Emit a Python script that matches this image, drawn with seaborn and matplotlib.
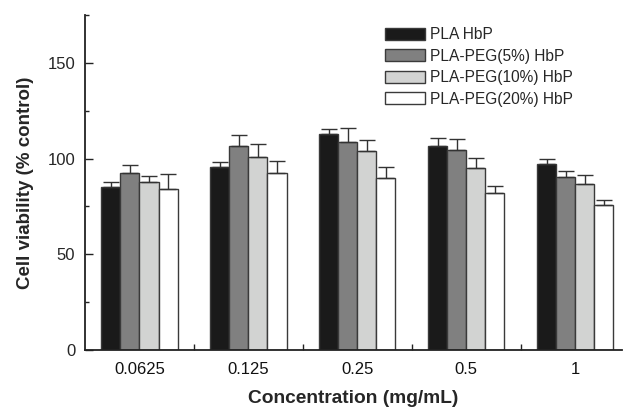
import numpy as np
import pandas as pd
import matplotlib
matplotlib.use("Agg")
import matplotlib.pyplot as plt
import seaborn as sns
from matplotlib.patches import Patch
from matplotlib.ticker import FixedLocator, MultipleLocator

concentrations = ["0.0625", "0.125", "0.25", "0.5", "1"]
series = ["PLA HbP", "PLA-PEG(5%) HbP", "PLA-PEG(10%) HbP", "PLA-PEG(20%) HbP"]
pla = [85.0, 95.6, 112.6, 106.6, 97.4]
peg5 = [92.5, 106.5, 108.6, 104.7, 90.4]
peg10 = [87.6, 100.7, 104.0, 95.1, 86.7]
peg20 = [84.0, 92.5, 90.0, 82.0, 75.9]
pla_err = [3.0, 2.6, 2.7, 4.0, 2.6]
peg5_err = [4.0, 5.9, 7.2, 5.6, 3.0]
peg10_err = [3.1, 6.8, 5.6, 5.0, 4.5]
peg20_err = [7.8, 6.3, 5.6, 3.7, 2.6]
colors = ["#1a1a1a", "#808080", "#d2d3d2", "#ffffff"]

values = [pla, peg5, peg10, peg20]
errors = [pla_err, peg5_err, peg10_err, peg20_err]
rows = []
for s, vals, errs in zip(series, values, errors):
    for c, v, e in zip(concentrations, vals, errs):
        rows.append({"conc": c, "series": s, "value": v, "err": e})
df = pd.DataFrame(rows)

sns.set_style("ticks")
plt.rcParams["font.family"] = ["Liberation Sans", "DejaVu Sans"]

fig = plt.figure(figsize=(6.25, 4.09), dpi=100)
ax = fig.add_axes([85 / 625, 1 - 350 / 409, (622 - 85) / 625, (350 - 15) / 409])

sns.barplot(data=df, x="conc", y="value", hue="series", order=concentrations,
            hue_order=series, palette=colors, errorbar=None, width=0.70,
            saturation=1, edgecolor="#3a3a3a", linewidth=1.0, ax=ax, legend=False)

# error bars (upper only) placed on the bars drawn by seaborn
bars = [p for p in ax.patches]
for i, s in enumerate(series):
    sub = bars[i * len(concentrations):(i + 1) * len(concentrations)]
    xs = [p.get_x() + p.get_width() / 2 for p in sub]
    ys = [p.get_height() for p in sub]
    ax.errorbar(xs, ys, yerr=[np.zeros(len(errors[i])), errors[i]], fmt="none",
                ecolor="#333333", elinewidth=1.0, capsize=6, capthick=1.0, zorder=3)

ax.set_ylim(0, 175)
ax.set_xlim(-0.5, 4.43)
ax.yaxis.set_major_locator(FixedLocator([0, 50, 100, 150]))
ax.yaxis.set_minor_locator(MultipleLocator(25))
ax.set_xticks(range(len(concentrations)))
ax.set_xticklabels(concentrations)
ax.xaxis.set_minor_locator(FixedLocator([0.5, 1.5, 2.5, 3.5]))
ax.tick_params(axis="x", which="major", length=0, labelsize=12, pad=9, colors="#111111")
ax.tick_params(axis="x", which="minor", direction="in", length=4, width=1, color="#222222")
ax.tick_params(axis="y", which="major", direction="in", length=6, width=1, labelsize=12, pad=7, color="#222222")
ax.tick_params(axis="y", which="minor", direction="in", length=3, width=1, color="#222222")
sns.despine(ax=ax)
for sp in ["left", "bottom"]:
    ax.spines[sp].set_linewidth(1.3)
    ax.spines[sp].set_color("#222222")

ax.set_xlabel("Concentration (mg/mL)", fontsize=13.8, fontweight="bold", labelpad=9)
ax.set_ylabel("Cell viability (% control)", fontsize=13.5, fontweight="bold", labelpad=10)

handles = [Patch(facecolor=c, edgecolor="#3a3a3a", linewidth=1.0) for c in colors]
fig.legend(handles, series, loc="upper left", bbox_to_anchor=(385 / 625, 1 - 27 / 409),
           frameon=False, fontsize=11.2, handlelength=2.6, handleheight=0.82,
           handletextpad=0.3, labelspacing=0.42, borderpad=0, borderaxespad=0)

fig.savefig("out.png", dpi=100)
